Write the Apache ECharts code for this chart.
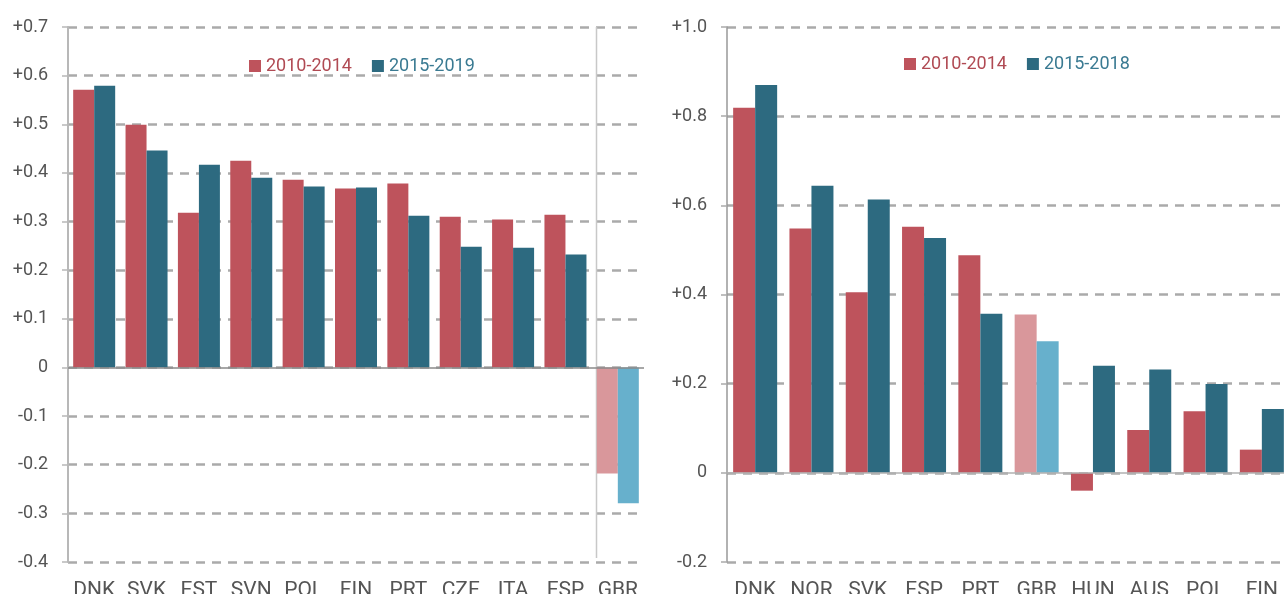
<!DOCTYPE html>
<html>
<head>
<meta charset="utf-8">
<script src="https://cdn.jsdelivr.net/npm/echarts@6/dist/echarts.min.js"></script>
<style>
  html, body { margin: 0; padding: 0; background: #fff; }
  #chart-container { width: 1284px; height: 594px; }
</style>
</head>
<body>
<div id="chart-container"></div>
<script>
// left panel
var leftCountries = ["DNK", "SVK", "EST", "SVN", "POL", "FIN", "PRT", "CZE", "ITA", "ESP", "GBR"];
var left2010 = [0.571, 0.499, 0.318, 0.425, 0.386, 0.368, 0.378, 0.310, 0.304, 0.314, -0.218];
var left2015 = [0.579, 0.446, 0.417, 0.390, 0.372, 0.370, 0.312, 0.248, 0.246, 0.232, -0.279];

// right panel
var rightCountries = ["DNK", "NOR", "SVK", "ESP", "PRT", "GBR", "HUN", "AUS", "POL", "FIN"];
var right2010 = [0.819, 0.548, 0.405, 0.552, 0.488, 0.355, -0.040, 0.096, 0.138, 0.052];
var right2015 = [0.870, 0.644, 0.613, 0.527, 0.357, 0.295, 0.240, 0.232, 0.199, 0.143];

var RED = "#be535c", BLUE = "#2d6a80";
var RED_LIGHT = "#d9979b", BLUE_LIGHT = "#67b0cc";
var FONT = "Roboto";

function colorize(values, cats, base, light) {
  return values.map(function (v, i) {
    return {
      value: v,
      itemStyle: { color: cats[i] === "GBR" ? light : base }
    };
  });
}

function fmt(v) {
  if (Math.abs(v) < 1e-9) return "0";
  return (v > 0 ? "+" : "") + v.toFixed(1);
}

var dashed = { show: true, lineStyle: { color: "#aaaaaa", width: 2.5, type: [9, 7] } };

var zeroLine = function (color) {
  return {
    silent: true,
    symbol: "none",
    label: { show: false },
    lineStyle: { color: color, type: "solid", width: 1.5 },
    data: [{ yAxis: 0 }]
  };
};

var catLabel = { color: "#555", fontSize: 21, margin: 18, interval: 0, fontFamily: FONT };
var valLabel = { color: "#555", fontSize: 18, margin: 20, formatter: fmt, fontFamily: FONT };

var dom = document.getElementById("chart-container");
var myChart = echarts.init(dom, null, { renderer: "canvas" });

var option = {
  animation: false,
  textStyle: { fontFamily: FONT },
  legend: [
    {
      left: 249, top: 57, padding: 0,
      icon: "rect", itemWidth: 12, itemHeight: 12, itemGap: 20,
      textStyle: { fontSize: 18, fontFamily: FONT },
      data: [
        { name: "2010-2014", textStyle: { color: "#b04a53" } },
        { name: "2015-2019", textStyle: { color: "#3a7a92" } }
      ]
    },
    {
      left: 904, top: 55, padding: 0,
      icon: "rect", itemWidth: 12, itemHeight: 12, itemGap: 20,
      textStyle: { fontSize: 18, fontFamily: FONT },
      data: [
        { name: "2010-2014", textStyle: { color: "#b04a53" } },
        { name: "2015-2018", textStyle: { color: "#3a7a92" } }
      ]
    }
  ],
  grid: [
    { left: 68, top: 27, width: 576, bottom: 32, outerBoundsMode: "none", containLabel: false },
    { left: 727, top: 27, width: 563, bottom: 32, outerBoundsMode: "none", containLabel: false }
  ],
  xAxis: [
    {
      type: "category", gridIndex: 0, data: leftCountries,
      axisLine: { show: false, onZero: false },
      axisTick: { show: false },
      axisLabel: catLabel,
      splitLine: { show: false }
    },
    {
      type: "category", gridIndex: 1, data: rightCountries,
      axisLine: { show: false, onZero: false },
      axisTick: { show: false },
      axisLabel: catLabel,
      splitLine: { show: false }
    }
  ],
  yAxis: [
    {
      type: "value", gridIndex: 0, min: -0.4, max: 0.7, interval: 0.1,
      axisLine: { show: true, lineStyle: { color: "#b8b8b8", width: 2 } },
      axisTick: { show: true, length: 6, lineStyle: { color: "#b8b8b8", width: 1.5 } },
      axisLabel: valLabel,
      splitLine: dashed
    },
    {
      type: "value", gridIndex: 1, min: -0.2, max: 1.0, interval: 0.2,
      axisLine: { show: true, lineStyle: { color: "#999999", width: 1.5 } },
      axisTick: { show: true, length: 6, lineStyle: { color: "#aaaaaa", width: 1.5 } },
      axisLabel: valLabel,
      splitLine: dashed
    }
  ],
  series: [
    {
      name: "2010-2014", type: "bar", xAxisIndex: 0, yAxisIndex: 0,
      itemStyle: { color: RED }, barWidth: 21, barGap: "0%",
      data: colorize(left2010, leftCountries, RED, RED_LIGHT),
      markLine: zeroLine("#8a8a8a")
    },
    {
      name: "2015-2019", type: "bar", xAxisIndex: 0, yAxisIndex: 0,
      itemStyle: { color: BLUE }, barWidth: 21, barGap: "0%",
      data: colorize(left2015, leftCountries, BLUE, BLUE_LIGHT)
    },
    {
      name: "2010-2014", type: "bar", xAxisIndex: 1, yAxisIndex: 1,
      itemStyle: { color: RED }, barWidth: 22, barGap: "0%",
      data: colorize(right2010, rightCountries, RED, RED_LIGHT),
      markLine: zeroLine("#b0b0b0")
    },
    {
      name: "2015-2018", type: "bar", xAxisIndex: 1, yAxisIndex: 1,
      itemStyle: { color: BLUE }, barWidth: 22, barGap: "0%",
      data: colorize(right2015, rightCountries, BLUE, BLUE_LIGHT)
    }
  ]
};

myChart.setOption(option);

// thin separator before GBR in the left panel, placed from the axis scales
var gbrX = myChart.convertToPixel({ xAxisIndex: 0 }, "GBR");
var topY = myChart.convertToPixel({ yAxisIndex: 0 }, 0.7);
var botY = myChart.convertToPixel({ yAxisIndex: 0 }, -0.4);
var sepX = Math.round(gbrX - 22) + 0.5;
myChart.setOption({
  graphic: [{
    type: "line", silent: true, z: 1,
    shape: { x1: sepX, y1: topY, x2: sepX, y2: botY - 4 },
    style: { stroke: "#c8c8c8", lineWidth: 1.5 }
  }]
});

window.addEventListener("resize", myChart.resize);
</script>
</body>
</html>
